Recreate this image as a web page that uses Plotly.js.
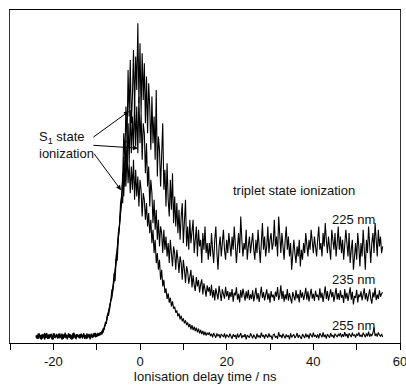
<!DOCTYPE html>
<html>
<head>
<meta charset="utf-8">
<script src="https://cdn.plot.ly/plotly-3.0.1.min.js"></script>
<style>html,body{margin:0;padding:0;background:#fff;}#chart{width:406px;height:385px;}</style>
</head>
<body>
<div id="chart"></div>
<script>
// sampling grid: delay time from -24 ns to 56 ns in 0.25 ns steps (20 samples per row = 5 ns)
var tStart = -24, tStep = 0.25;

var nm225 = [
2.1,1.4,2.8,1.7,2.3,1.0,2.6,1.9,3.0,1.5,2.2,1.2,2.7,1.8,2.4,1.1,2.9,1.6,2.0,2.5,
1.3,2.8,1.9,2.2,1.0,2.6,1.7,3.1,1.4,2.3,1.8,2.7,1.2,2.1,2.9,1.5,2.4,1.1,2.6,1.9,
2.3,1.6,2.8,1.3,2.5,2.0,1.4,2.9,1.8,2.2,1.1,2.7,1.9,2.4,3.0,1.7,2.6,2.1,2.9,2.4,
2.9,3.4,3.1,4.9,5.3,6.8,7.9,9.6,11.8,12.6,15.9,16.4,20.8,21.5,26.3,27.9,33.1,35.4,39.8,45.2,
49,63,55,71,60,82,68,85,66,74,88,70,86,76,96,72,90,69,87,73,
84,66,80,63,78,71,58,74,60,68,55,76,50,62,58,47,57,66,46,52,
41,54,43,38,49,40,51,36,44,35,42,33,40,31,38,42,30,36,43,29,
35,28,37,30,33,37,27,32,35,26,34,29,31,24,33,28,35,27,30,25,
30,26,33,28,24,31,35,27,22,29,32,26,30,34,28,25,31,27,33,29,
26,32,28,35,30,24,29,33,27,38,31,26,30,28,34,25,29,32,27,30,
33,28,25,31,27,34,29,24,30,36,28,32,26,29,35,27,31,33,28,30,
37,29,32,26,38,30,27,33,29,25,31,35,28,32,26,30,22,28,31,27,
24,29,26,31,23,28,25,30,27,33,29,26,31,28,34,30,27,32,29,26,
31,35,28,30,26,33,29,36,31,27,32,29,25,34,30,28,33,26,30,35,
28,32,27,31,25,29,34,30,26,33,24,28,31,22,27,30,25,33,29,23,
30,26,34,28,22,31,27,35,29,24,30,33,27,36,31,26,34,29,32,27,
29
];

var nm235 = [
1.6,2.4,1.2,2.9,1.8,2.2,1.3,2.6,1.5,2.0,3.0,1.4,2.3,1.7,2.8,1.1,2.5,2.0,1.6,2.7,
2.2,1.5,2.9,1.8,2.4,1.2,2.7,1.9,2.1,1.4,2.8,1.6,2.5,1.0,2.3,3.1,1.7,2.6,1.9,2.2,
1.4,2.7,2.0,1.6,2.9,1.8,2.3,1.2,2.6,2.1,1.5,2.8,2.2,1.7,2.5,3.0,1.9,2.7,2.4,3.1,
3.2,2.6,4.4,4.0,6.1,5.9,8.6,8.2,10.9,12.4,14.8,15.7,19.1,18.6,25.2,24.7,31.3,34.6,41.7,43.9,
42,56,47,61,52,66,54,70,57,68,58,73,59,71,57,74,60,69,55,66,
63,51,60,47,53,41,49,45,36,43,34,40,31,37,29,35,33,27,34,28,
32,26,30,24,31,28,23,29,27,22,28,25,21,26,24,19,25,22,18,23,
21.5,17.8,19.9,22.0,16.7,20.3,17.4,15.6,19.8,17.0,18.9,15.2,17.7,19.1,14.6,17.9,16.1,13.9,17.3,15.4,
16.8,14.2,17.5,13.6,15.9,12.8,16.4,14.9,13.1,17.2,15.0,12.6,16.1,14.4,13.3,16.9,14.0,15.6,12.9,15.3,
13.8,16.2,12.4,15.1,14.3,16.7,13.0,14.8,12.2,15.9,13.6,16.3,14.1,12.7,15.5,13.4,16.0,12.9,14.6,13.2,
15.8,12.5,14.4,16.6,13.1,15.0,12.3,14.7,16.9,13.5,15.3,12.8,14.2,16.1,13.0,14.9,12.1,15.6,13.7,14.5,
12.6,15.4,13.9,16.8,12.9,14.3,17.3,13.2,15.7,12.4,14.6,13.1,16.2,12.7,15.0,13.8,11.9,15.3,14.1,12.8,
15.9,13.4,14.7,12.2,16.0,13.6,15.2,12.9,14.4,16.6,13.0,15.5,12.5,14.0,16.3,13.3,14.8,12.6,15.7,13.9,
14.5,12.8,16.4,13.5,15.1,12.3,14.9,17.0,13.2,15.6,12.7,14.2,16.1,13.8,15.3,12.4,14.7,16.5,13.1,15.0,
12.9,15.8,13.6,14.4,12.0,16.2,13.3,15.1,12.6,14.8,16.7,13.0,15.4,11.6,14.1,13.5,16.0,12.2,14.6,13.8,
15.5,12.8,14.3,16.4,13.1,15.0,12.5,14.7,16.1,13.4,11.8,15.2,13.7,16.6,12.9,14.5,13.2,15.8,13.9,14.8,
15.2
];

var nm255 = [
2.3,1.5,1.9,2.7,1.2,2.5,1.8,2.1,1.0,2.8,1.6,2.4,1.3,2.0,2.6,1.8,1.1,2.9,1.5,2.2,
1.9,2.6,1.4,2.2,2.8,1.3,2.0,1.7,2.5,1.1,2.9,1.6,2.3,1.9,1.2,2.7,2.1,1.5,2.4,1.8,
2.6,1.4,2.2,1.9,2.8,1.2,2.4,2.0,1.6,2.7,1.8,2.3,1.5,2.9,2.1,2.5,1.9,3.0,2.2,2.8,
2.6,3.6,3.9,4.5,5.8,6.4,8.3,9.1,10.2,12.9,13.5,17.0,18.4,21.9,24.1,28.6,31.0,34.9,38.6,41.8,
51,44,55,47,57,48,54,45,53,46,55,43,52,44,50,41,49,46,38,45,
43,37,42,35,39,33,37,30,34,27,31,24,27,22,25,19,22,17,19,15,
16.4,13.2,14.9,12.1,13.6,11.0,12.5,10.3,10.9,9.1,9.8,8.0,8.9,7.1,8.2,6.5,7.4,5.9,6.8,5.4,
6.2,4.8,5.7,4.1,5.4,3.9,4.9,3.6,4.6,3.2,4.3,2.9,3.9,2.7,3.6,2.4,3.4,2.2,3.1,2.5,
3.2,2.1,2.8,1.7,3.0,2.3,1.6,2.9,2.0,2.6,1.5,2.7,2.2,1.8,2.9,1.4,2.5,2.1,1.7,2.8,
2.0,1.3,2.6,1.9,2.4,1.2,2.8,1.7,2.2,3.0,1.5,2.3,1.8,2.7,1.1,2.4,2.0,1.6,2.9,1.9,
1.4,2.5,2.0,1.2,2.8,1.7,2.3,1.5,3.1,1.9,2.4,1.3,2.6,2.1,1.6,2.9,1.8,2.2,1.0,2.5,
2.7,1.6,2.1,1.3,3.3,1.9,2.4,1.5,2.8,2.0,1.4,2.6,1.8,2.3,1.1,2.9,1.7,2.2,2.6,1.5,
2.0,3.0,1.6,2.4,1.9,1.2,2.7,2.2,1.5,2.8,1.8,2.5,1.3,2.9,2.1,1.7,3.1,1.9,2.4,1.6,
2.6,1.4,2.9,2.0,1.7,3.2,1.8,2.5,1.3,2.7,2.2,1.6,3.0,1.9,2.4,1.5,2.8,2.1,1.8,2.6,
2.2,3.0,1.7,2.6,1.9,3.3,2.0,2.7,1.5,2.9,2.3,1.8,3.1,2.1,2.5,1.6,2.8,2.2,3.2,1.9,
2.5,1.8,3.1,2.3,1.7,2.9,2.0,3.4,1.9,2.6,2.2,3.0,4.7,2.1,2.8,1.9,3.2,2.4,2.0,2.7,
1.8
];

var tickVals = [-30,-20,-10,0,10,20,30,40,50,60];
var tickText = ['','-20','','0','','20','','40','','60'];
var seriesLabels = ['225 nm','235 nm','255 nm'];

function times(n){ var a=[]; for(var i=0;i<n;i++){ a.push(tStart+i*tStep); } return a; }

var font = 'Liberation Sans, Arial, sans-serif';
var traces = [nm225, nm235, nm255].map(function(v, k){
  return {x: times(v.length), y: v, type:'scatter', mode:'lines', name: seriesLabels[k],
          line:{color:'#000', width:1.1}, hoverinfo:'skip'};
});

var arrowStyle = {showarrow:true, arrowhead:2, arrowsize:1, arrowwidth:1, arrowcolor:'#000',
                  axref:'x', ayref:'y', text:'', xref:'x', yref:'y'};
function arrow(x, y, ax, ay){ return Object.assign({}, arrowStyle, {x:x, y:y, ax:ax, ay:ay}); }

var annotations = [
  {x:-23.8, y:59.4, xref:'x', yref:'y', text:'S<sub>1</sub> state<br>ionization', showarrow:false,
   xanchor:'left', yanchor:'middle', align:'left', font:{family:font, size:13, color:'#111'}},
  arrow(-2.54, 69.6, -11.1, 61.5),
  arrow(-0.46, 58.5, -11.1, 59.4),
  arrow(-4.38, 45.9, -10.85, 57.3),
  {x:35.5, y:45.9, xref:'x', yref:'y', text:'triplet state ionization', showarrow:false,
   xanchor:'center', yanchor:'middle', font:{family:font, size:13, color:'#111'}},
  {x:49.3, y:37.2, xref:'x', yref:'y', text:seriesLabels[0], showarrow:false,
   xanchor:'center', yanchor:'middle', font:{family:font, size:13, color:'#111'}},
  {x:49.3, y:19.2, xref:'x', yref:'y', text:seriesLabels[1], showarrow:false,
   xanchor:'center', yanchor:'middle', font:{family:font, size:13, color:'#111'}},
  {x:49.3, y:5.4, xref:'x', yref:'y', text:seriesLabels[2], showarrow:false,
   xanchor:'center', yanchor:'middle', font:{family:font, size:13, color:'#111'}}
];

var layout = {
  width:406, height:385,
  margin:{l:10, r:6, t:10, b:42},
  paper_bgcolor:'#fff', plot_bgcolor:'#fff',
  showlegend:false,
  xaxis:{range:[-30,60], tickmode:'array', tickvals:tickVals, ticktext:tickText,
         ticks:'outside', ticklen:6, tickwidth:1, tickcolor:'#000',
         ticklabeloverflow:'allow',
         showline:true, linecolor:'#000', linewidth:1, mirror:true,
         showgrid:false, zeroline:false,
         tickfont:{family:font, size:13, color:'#111'},
         title:{text:'Ionisation delay time / ns', font:{family:font, size:13, color:'#111'}, standoff:2}},
  yaxis:{range:[0,100], showticklabels:false, ticks:'', showline:true, linecolor:'#333', linewidth:1,
         mirror:true, showgrid:false, zeroline:false},
  annotations: annotations
};

Plotly.newPlot('chart', traces, layout, {displayModeBar:false, staticPlot:true});
</script>
</body>
</html>
